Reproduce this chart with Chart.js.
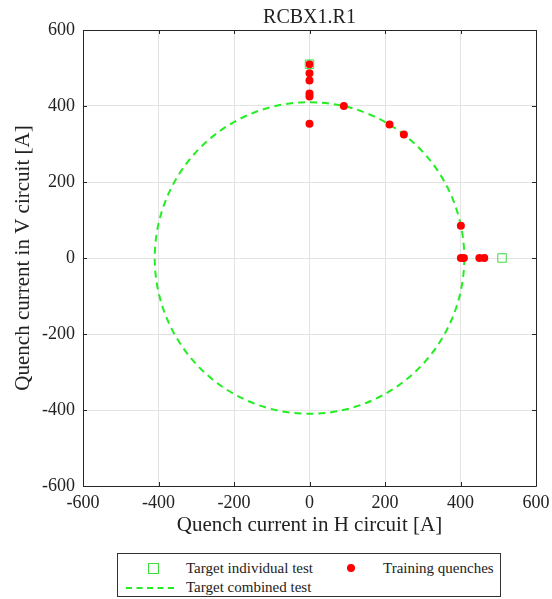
<!DOCTYPE html>
<html>
<head>
<meta charset="utf-8">
<script src="https://cdn.jsdelivr.net/npm/chart.js@4.4.0/dist/chart.umd.min.js"></script>
<style>
  html, body { margin: 0; padding: 0; background: #fff; }
  #wrap { position: relative; width: 552px; height: 599px; }
  #legend {
    position: absolute; left: 117px; top: 553px; width: 384px; height: 44px;
    border: 1px solid #333; background: #fff; box-sizing: border-box;
    font-family: "Liberation Serif", "Times New Roman", serif; font-size: 15px; color: #222;
  }
  #legend .item { position: absolute; white-space: nowrap; line-height: 18px; }
  #legend .sq { position: absolute; width: 9px; height: 9px; border: 1px solid #3ddc3d; }
  #legend .dot { position: absolute; width: 8px; height: 8px; border-radius: 50%; background: #ff0000; }
  #legend .dash { position: absolute; width: 48px; border-top: 2px dashed #22ee22; }
</style>
</head>
<body>
<div id="wrap">
  <canvas id="chart" width="552" height="599"></canvas>
  <div id="legend">
    <span class="sq" style="left:30px; top:9px;"></span>
    <span class="item" style="left:68px; top:5px;">Target individual test</span>
    <span class="dot" style="left:229px; top:10px;"></span>
    <span class="item" style="left:265px; top:5px;">Training quenches</span>
    <span class="dash" style="left:8px; top:33px;"></span>
    <span class="item" style="left:68px; top:24px;">Target combined test</span>
  </div>
</div>
<script>
// Quench currents of RCBX1.R1 (H and V circuits, in A)
const targetH = [0, 510];
const targetV = [510, 0];
const quenchH = [0, 0, 0, 0, 0, 0, 91, 212, 250, 401, 401, 409, 450, 463];
const quenchV = [510, 486, 467, 433, 425, 353, 400, 351, 325, 85, 0, 0, 0, 0];
const combinedRadius = 410;
const axisTicks = [-600, -400, -200, 0, 200, 400, 600];

const FONT = "'Liberation Serif', 'Times New Roman', serif";

const toPoints = (xs, ys) => xs.map((x, i) => ({ x, y: ys[i] }));

// dashed circle for the combined target + inward ticks on the box
const circlePlugin = {
  id: 'circle',
  beforeDatasetsDraw(chart) {
    const { ctx, scales: { x, y } } = chart;
    const cx = x.getPixelForValue(0), cy = y.getPixelForValue(0);
    const rx = x.getPixelForValue(combinedRadius) - cx;
    const ry = cy - y.getPixelForValue(combinedRadius);
    ctx.save();
    ctx.strokeStyle = '#22ee22';
    ctx.lineWidth = 2;
    ctx.setLineDash([7, 5]);
    ctx.beginPath();
    ctx.ellipse(cx, cy, rx, ry, 0, 0, Math.PI * 2);
    ctx.stroke();
    ctx.restore();
  },
  afterDraw(chart) {
    const { ctx, chartArea: a, scales: { x, y } } = chart;
    ctx.save();
    ctx.strokeStyle = '#262626';
    ctx.lineWidth = 1;
    ctx.beginPath();
    axisTicks.forEach(v => {
      const px = Math.round(x.getPixelForValue(v)) + 0.5;
      ctx.moveTo(px, a.bottom); ctx.lineTo(px, a.bottom - 4);
      ctx.moveTo(px, a.top); ctx.lineTo(px, a.top + 4);
      const py = Math.round(y.getPixelForValue(v)) + 0.5;
      ctx.moveTo(a.left, py); ctx.lineTo(a.left + 4, py);
      ctx.moveTo(a.right, py); ctx.lineTo(a.right - 4, py);
    });
    ctx.rect(Math.round(a.left) + 0.5, Math.round(a.top) + 0.5,
             Math.round(a.right - a.left), Math.round(a.bottom - a.top));
    ctx.stroke();
    ctx.restore();
  }
};

new Chart(document.getElementById('chart').getContext('2d'), {
  type: 'scatter',
  data: {
    datasets: [
      {
        label: 'Target individual test',
        data: toPoints(targetH, targetV),
        pointStyle: 'rect',
        pointRadius: 6,
        backgroundColor: 'rgba(0,0,0,0)',
        borderColor: '#3ddc3d',
        borderWidth: 1
      },
      {
        label: 'Training quenches',
        data: toPoints(quenchH, quenchV),
        pointStyle: 'circle',
        pointRadius: 4,
        backgroundColor: '#ff0000',
        borderColor: '#ff0000',
        borderWidth: 0
      }
    ]
  },
  options: {
    responsive: false,
    animation: false,
    layout: { padding: { left: 0, right: 16, top: 0, bottom: 61 } },
    plugins: {
      legend: { display: false },
      tooltip: { enabled: false },
      title: {
        display: true,
        text: 'RCBX1.R1',
        fullSize: false,
        color: '#222',
        font: { family: FONT, size: 20, weight: 'normal', lineHeight: 1.1 },
        padding: { top: 7, bottom: 1 }
      }
    },
    scales: {
      x: {
        type: 'linear', min: -600, max: 600,
        afterFit: s => { s.height = 52; s.paddingLeft = 0; s.paddingRight = 0; },
        afterBuildTicks: s => { s.ticks = axisTicks.map(value => ({ value })); },
        grid: { color: '#e3e3e3', drawTicks: false },
        border: { display: false },
        ticks: { color: '#222', padding: 6, font: { family: FONT, size: 18 } },
        title: {
          display: true, text: 'Quench current in H circuit [A]', color: '#222',
          font: { family: FONT, size: 21 }, padding: { top: 0, bottom: 0 }
        }
      },
      y: {
        type: 'linear', min: -600, max: 600,
        afterFit: s => { s.width = 83; s.paddingTop = 0; s.paddingBottom = 0; },
        afterBuildTicks: s => { s.ticks = axisTicks.map(value => ({ value })); },
        grid: { color: '#e3e3e3', drawTicks: false },
        border: { display: false },
        ticks: { color: '#222', padding: 8, font: { family: FONT, size: 18 } },
        title: {
          display: true, text: 'Quench current in V circuit [A]', color: '#222',
          font: { family: FONT, size: 21 }, padding: { top: 11, bottom: 0 }
        }
      }
    }
  },
  plugins: [circlePlugin]
});
</script>
</body>
</html>
